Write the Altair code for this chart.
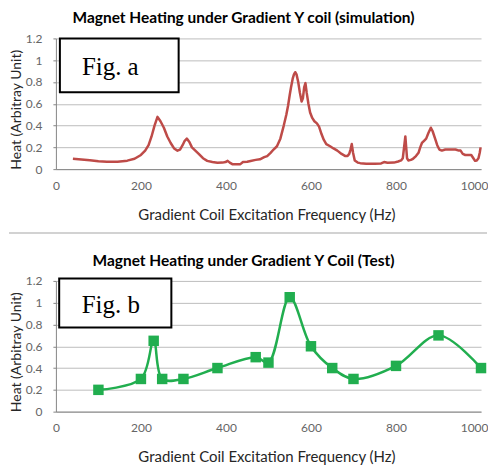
import altair as alt
import pandas as pd

# ---- data ----
sim_freq = [40, 60, 80, 100, 120, 145, 168, 185, 200, 210,
            218, 225, 232, 239, 246, 254, 262, 270, 278, 286,
            292, 298, 303, 308, 314, 320, 328, 336, 346, 356,
            368, 380, 392, 399, 404, 409, 415, 425, 434, 440,
            450, 458, 470, 480, 490, 497, 505, 512, 520, 528,
            536, 542, 546, 550, 553, 557, 560, 563, 566, 570,
            574, 578, 581, 584, 587, 590, 594, 598, 603, 608,
            614, 619, 625, 630, 636, 645, 653, 662, 672, 681,
            686, 690, 693, 696, 699, 703, 710, 716, 730, 750,
            765, 772, 780, 795, 805, 812, 816, 819, 822, 824,
            826, 829, 835, 840, 847, 853, 857, 861, 866, 871,
            876, 882, 886, 892, 897, 902, 908, 916, 930, 940,
            948, 952, 957, 963, 970, 977, 982, 986, 990, 994,
            997, 999]
sim_heat = [0.095, 0.088, 0.082, 0.072, 0.068, 0.068, 0.078, 0.095, 0.13, 0.17,
            0.22, 0.30, 0.40, 0.48, 0.44, 0.38, 0.30, 0.24, 0.19, 0.17,
            0.18, 0.22, 0.26, 0.28, 0.25, 0.20, 0.17, 0.14, 0.10, 0.076,
            0.065, 0.058, 0.06, 0.065, 0.076, 0.06, 0.046, 0.046, 0.046, 0.065,
            0.068, 0.075, 0.085, 0.09, 0.11, 0.12, 0.15, 0.18, 0.21, 0.28,
            0.40, 0.50, 0.58, 0.68, 0.75, 0.83, 0.87, 0.89, 0.87, 0.80,
            0.70, 0.62, 0.65, 0.75, 0.79, 0.70, 0.60, 0.52, 0.47, 0.44,
            0.42, 0.39, 0.32, 0.27, 0.23, 0.21, 0.19, 0.17, 0.14, 0.12,
            0.12, 0.14, 0.18, 0.23, 0.15, 0.08, 0.06, 0.055, 0.05, 0.05,
            0.052, 0.065, 0.058, 0.06, 0.07, 0.08, 0.10, 0.20, 0.30, 0.20,
            0.10, 0.08, 0.085, 0.095, 0.12, 0.15, 0.20, 0.24, 0.26, 0.28,
            0.33, 0.38, 0.35, 0.28, 0.22, 0.18, 0.17, 0.18, 0.18, 0.18,
            0.17, 0.17, 0.14, 0.13, 0.13, 0.13, 0.10, 0.076, 0.08, 0.10,
            0.15, 0.20]

test_freq = [100, 200, 230, 250, 300, 380, 470, 500, 550, 600, 650, 700, 800, 900, 1000]
test_heat = [0.2, 0.3, 0.65, 0.3, 0.3, 0.4, 0.5, 0.45, 1.05, 0.6, 0.4, 0.3, 0.42, 0.7, 0.4]

x_ticks = [0, 200, 400, 600, 800, 1000]
y_ticks = [0, 0.2, 0.4, 0.6, 0.8, 1.0, 1.2]

title_a = "Magnet Heating under Gradient Y coil (simulation)"
title_b = "Magnet Heating under Gradient Y Coil (Test)"
x_title = "Gradient Coil Excitation Frequency (Hz)"
y_title = "Heat (Arbitray Unit)"

sim_df = pd.DataFrame({"f": sim_freq, "h": sim_heat})
test_df = pd.DataFrame({"f": test_freq, "h": test_heat})

FONT = "Lato"
W, H = 426, 131


def xenc():
    return alt.X("f:Q", scale=alt.Scale(domain=[0, 1000], nice=False),
                 axis=alt.Axis(values=x_ticks, format="d", title=x_title, grid=False,
                               ticks=False, labelFlush=False, labelPadding=11,
                               labelAlign={"condition": {"test": "datum.value == 1000", "value": "right"},
                                           "value": "center"},
                               labelOffset={"condition": {"test": "datum.value == 1000", "value": 7},
                                            "value": 0},
                               titlePadding=16, titleX=211))


def yenc():
    return alt.Y("h:Q", scale=alt.Scale(domain=[0, 1.2], nice=False),
                 axis=alt.Axis(values=y_ticks, format=".1~f", title=y_title,
                               tickSize=3, labelPadding=11, titlePadding=2,
                               titleY=71))


def figbox(label, x1, x2, y1, y2, tx, ty):
    d = pd.DataFrame({"label": [label]})
    rect = alt.Chart(d).mark_rect(fill="white", stroke="black", strokeWidth=2).encode(
        x=alt.value(x1), x2=alt.value(x2), y=alt.value(y1), y2=alt.value(y2))
    txt = alt.Chart(d).mark_text(font="Liberation Serif", fontSize=25, color="black",
                                 align="center", baseline="middle").encode(
        x=alt.value(tx), y=alt.value(ty), text="label:N")
    return rect + txt


def title(text, offset):
    return alt.TitleParams(text, font=FONT, fontSize=15.5, fontWeight="bold",
                           color="black", anchor="middle", frame="group",
                           offset=offset, dx=-25)


line_a = alt.Chart(sim_df).mark_line(color="#BE4B48", strokeWidth=2.5,
                                     strokeJoin="round").encode(x=xenc(), y=yenc())
sep = alt.Chart(pd.DataFrame({"k": [0]})).mark_rule(color="#A6A6A6", strokeWidth=1.2).encode(
    x=alt.value(-47), x2=alt.value(432), y=alt.value(195))
chart_a = alt.layer(line_a, figbox("Fig. a", 4, 123, 0, 54, 54.5, 29), sep).properties(
    width=W, height=H, title=title(title_a, 6))

line_b = alt.Chart(test_df).mark_line(color="#21AE4F", strokeWidth=2.5,
                                      interpolate="catmull-rom").encode(x=xenc(), y=yenc())
pts_b = alt.Chart(test_df).mark_point(shape="square", filled=True, size=110,
                                      color="#21AE4F", opacity=1).encode(x=xenc(), y=yenc())
chart_b = alt.layer(line_b, pts_b, figbox("Fig. b", 3.3, 115.7, -2.4, 46.6, 55, 24)).properties(
    width=W, height=H, title=title(title_b, 5))

chart = alt.vconcat(chart_a, chart_b, spacing=20).properties(
    padding={"left": 0, "top": 2, "right": 0, "bottom": 0}
).configure_view(stroke=None).configure_axis(
    labelFont=FONT, labelFontSize=12, labelColor="#666666",
    titleFont=FONT, titleFontSize=15, titleFontWeight="normal", titleColor="#262626",
    domainColor="#868686", tickColor="#868686", gridColor="#BDBDBD", gridWidth=1
).configure_axisY(titleFontSize=14)

chart.save("out.html", embed_options={"renderer": "svg", "actions": False})
